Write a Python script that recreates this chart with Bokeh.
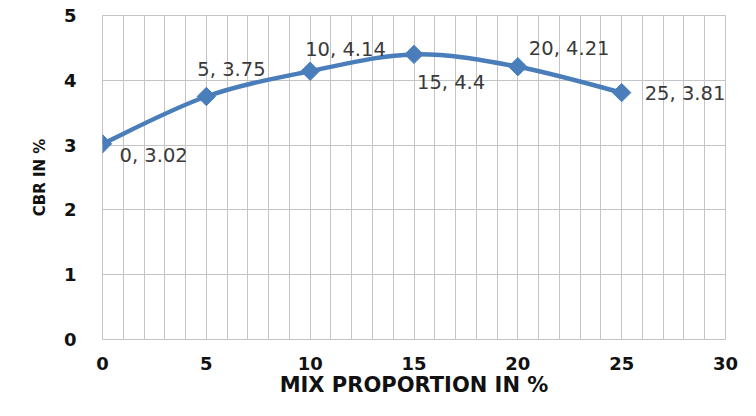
import numpy as np
from bokeh.plotting import figure
from bokeh.models import ColumnDataSource, FixedTicker
from bokeh.core.properties import value
from bokeh.embed import file_html
from bokeh.resources import INLINE

# ---- data ----
mix_proportion = [0, 5, 10, 15, 20, 25]
cbr = [3.02, 3.75, 4.14, 4.4, 4.21, 3.81]
x_ticks = [0, 5, 10, 15, 20, 25, 30]
y_ticks = [0, 1, 2, 3, 4, 5]
point_labels = [f"{x}, {y}" for x, y in zip(mix_proportion, cbr)]

# label placement (screen px, style only)
label_dx = [17, -9, -5, 3, 11, 23]
label_dy = [12, -27, -22, 28, -18, 1]

BLUE = "#4a7ebb"
GRID = "#c4c4c4"

p = figure(width=740, height=400, x_range=(0, 30), y_range=(0, 5),
           output_backend="svg", toolbar_location=None,
           min_border_left=102, min_border_right=15,
           min_border_top=15, min_border_bottom=61,
           background_fill_color="white", border_fill_color="white")

p.outline_line_color = GRID
p.outline_line_width = 1

# grid
p.xgrid.ticker = FixedTicker(ticks=list(range(0, 31)))
p.ygrid.ticker = FixedTicker(ticks=y_ticks)
p.xgrid.grid_line_color = GRID
p.ygrid.grid_line_color = GRID
p.xgrid.grid_line_width = 1
p.ygrid.grid_line_width = 1

# axes
p.xaxis.ticker = FixedTicker(ticks=x_ticks)
p.yaxis.ticker = FixedTicker(ticks=y_ticks)
for ax in (p.xaxis[0], p.yaxis[0]):
    ax.axis_line_color = None
    ax.major_tick_line_color = None
    ax.minor_tick_line_color = None
    ax.major_label_text_font = "DejaVu Sans"
    ax.major_label_text_font_style = "bold"
    ax.major_label_text_font_size = "18px"
    ax.major_label_text_color = "#111111"
    ax.axis_label_text_font = "DejaVu Sans"
    ax.axis_label_text_font_style = "bold"
    ax.axis_label_text_color = "#111111"
p.xaxis.major_label_standoff = 11
p.yaxis.major_label_standoff = 20
p.xaxis.axis_label = "MIX PROPORTION IN %"
p.xaxis.axis_label_text_font_size = "21px"
p.xaxis.axis_label_standoff = 0
p.yaxis.axis_label = "CBR IN %"
p.yaxis.axis_label_text_font_size = "15px"
p.yaxis.axis_label_standoff = 12

# smoothed line (Catmull-Rom style bezier, computed from the data)
xs = np.array(mix_proportion, dtype=float)
ys = np.array(cbr, dtype=float)
n = len(xs)
px = np.concatenate([[xs[0]], xs, [xs[-1]]])
py = np.concatenate([[ys[0]], ys, [ys[-1]]])
t = 1.0 / 6.0
x0 = xs[:-1]; y0 = ys[:-1]; x1 = xs[1:]; y1 = ys[1:]
cx0 = px[1:n] + (px[2:n + 1] - px[0:n - 1]) * t
cy0 = py[1:n] + (py[2:n + 1] - py[0:n - 1]) * t
cx1 = px[2:n + 1] - (px[3:n + 2] - px[1:n]) * t
cy1 = py[2:n + 1] - (py[3:n + 2] - py[1:n]) * t
bz = ColumnDataSource(dict(x0=x0, y0=y0, x1=x1, y1=y1, cx0=cx0, cy0=cy0, cx1=cx1, cy1=cy1))
p.bezier(x0="x0", y0="y0", x1="x1", y1="y1", cx0="cx0", cy0="cy0", cx1="cx1", cy1="cy1",
         source=bz, line_color=BLUE, line_width=4.5)

src = ColumnDataSource(dict(x=mix_proportion, y=cbr, label=point_labels,
                            dx=label_dx, dy=label_dy))
p.scatter("x", "y", source=src, marker="square", angle=np.pi / 4, size=13,
          fill_color=BLUE, line_color=BLUE)

p.text("x", "y", text="label", source=src, x_offset="dx", y_offset="dy",
       text_font=value("DejaVu Sans"), text_font_size="19.5px",
       text_color="#3a3a3a", text_align="left", text_baseline="middle")

open("out.html", "w").write(file_html(p, INLINE))
